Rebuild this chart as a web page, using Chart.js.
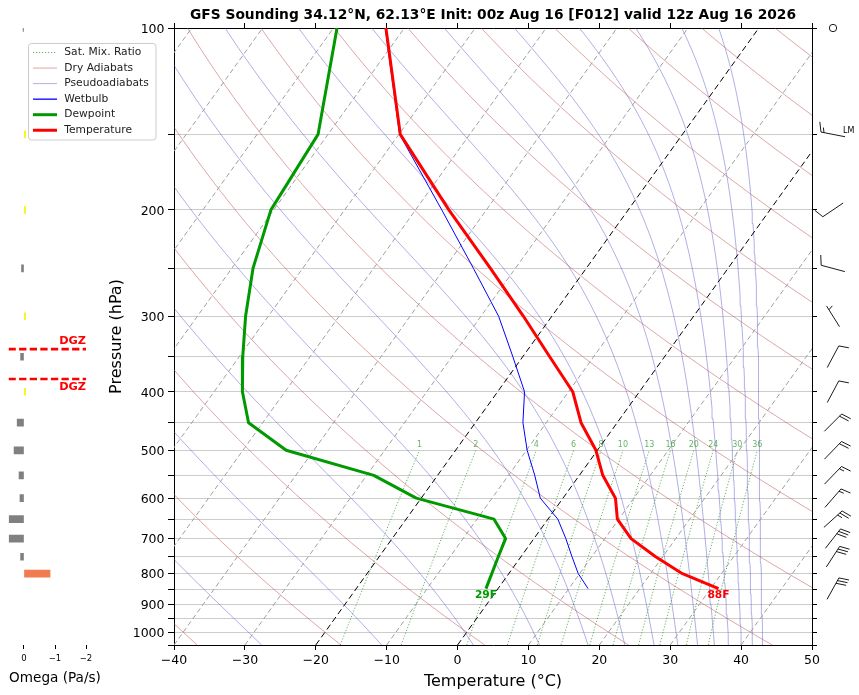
<!DOCTYPE html>
<html>
<head>
<meta charset="utf-8">
<title>GFS Sounding</title>
<script src="https://cdn.jsdelivr.net/npm/chart.js@4.4.1/dist/chart.umd.min.js"></script>
<style>
  body { margin: 0; background: #fff; overflow: hidden; }
  #wrap { position: relative; width: 859px; height: 695px; }
  canvas { position: absolute; left: 0; top: 0; }
</style>
</head>
<body>
<div id="wrap">
  <canvas id="omega" width="110" height="695"></canvas>
  <canvas id="skewt" width="859" height="695"></canvas>
</div>
<script>
// ---- sounding ----
var pLevels  = [100, 150, 200, 250, 300, 350, 400, 450, 500, 550, 600, 650, 700, 750, 800, 847];
var tempC    = [-72.6, -59.8, -45.3, -33.5, -24.0, -16.2, -9.4, -5.1, -0.2, 3.3, 7.4, 9.8, 13.7, 19.0, 24.5, 31.1];
var dewC     = [-79.5, -71.4, -70.4, -67.0, -63.2, -59.5, -56.0, -52.0, -43.9, -29.0, -20.7, -7.6, -4.0, -3.2, -2.4, -1.7];
var wetbulbC = [-72.7, -59.9, -46.3, -35.9, -27.5, -21.4, -16.2, -13.3, -9.9, -6.3, -3.2, 1.4, 4.5, 7.2, 9.8, 12.7];

// omega (Pa/s) on the left panel
var omegaP   = [100, 150, 200, 250, 300, 350, 400, 450, 500, 550, 600, 650, 700, 750, 800];
var omegaVal = [0.03, -0.05, -0.05, 0.08, -0.05, 0.11, -0.05, 0.22, 0.32, 0.16, 0.13, 0.48, 0.48, 0.11, -0.84];
var dgzP     = [340, 381];

// wind barbs (direction from, knots)
var barbP   = [100, 150, 200, 250, 300, 350, 400, 450, 500, 550, 600, 650, 700, 750, 847];
var barbDir = [0, 281, 236, 285, 328, 28, 28, 45, 44, 44, 41, 48, 38, 33, 29];
var barbKt  = [0, 15, 10, 10, 5, 10, 10, 20, 20, 15, 15, 25, 30, 30, 30];

// background lines
var isotherms     = [-100, -90, -80, -70, -60, -50, -40, -30, -20, -10, 0, 10, 20, 30, 40, 50];
var boldIsotherms = [-20, 0];
var dryThetaC     = [-40, -20, 0, 20, 40, 60, 80, 100, 120, 140, 160, 180, 200, 220];
var moistThetaEC  = [-30, -10, 10, 30, 50, 70, 90, 110, 130, 150, 170, 190, 210, 230];
var mixRatios     = [1, 2, 4, 6, 8, 10, 13, 16, 20, 24, 30, 36];

// axes
var xTicks     = [-40, -30, -20, -10, 0, 10, 20, 30, 40, 50];
var yTicks     = [100, 150, 200, 250, 300, 350, 400, 450, 500, 550, 600, 650, 700, 750, 800, 850, 900, 950, 1000, 1050];
var yLabels    = [100, 200, 300, 400, 500, 600, 700, 800, 900, 1000];
var omegaTicks = [0, -1, -2];

var titleText = 'GFS Sounding 34.12°N, 62.13°E Init: 00z Aug 16 [F012] valid 12z Aug 16 2026';

var P_BOT = 1050, P_TOP = 100, MIX_TOP = 500;
var X_MIN = -40, X_MAX = 50;
var SKEW = 61.2;   // degC shift per decade of pressure

var FONT = 'DejaVu Sans';
var DRY_COLOR = 'rgba(190, 80, 80, 0.5)';
var MOIST_COLOR = 'rgba(80, 80, 200, 0.45)';
var MIX_COLOR = 'rgba(0, 128, 0, 0.6)';
var DEW_COLOR = '#009900';

Chart.defaults.font.family = FONT;
Chart.defaults.color = '#000';

function skewX(t, p) {
  return t + SKEW * Math.log10(P_BOT / p);
}

function minusFmt(v) {
  return v < 0 ? '\u2212' + Math.abs(v) : String(v);
}

function satMixRatio(tc, p) {
  var es = 6.112 * Math.exp(17.67 * tc / (tc + 243.5));
  if (es >= 0.5 * p) return null;
  return 622 * es / (p - es);
}

// Bolton theta-e for saturated air
function thetaESat(tk, p) {
  var r = satMixRatio(tk - 273.15, p);
  if (r === null) return Infinity;
  return tk * Math.pow(1000 / p, 0.2854 * (1 - 0.00028 * r)) *
    Math.exp((3.376 / tk - 0.00254) * r * (1 + 0.00081 * r));
}

function tempOnPseudoAdiabat(thetaE, p) {
  var lo = 150, hi = 340;
  for (var k = 0; k < 50; k++) {
    var mid = (lo + hi) / 2;
    if (thetaESat(mid, p) > thetaE) hi = mid; else lo = mid;
  }
  return (lo + hi) / 2 - 273.15;
}

function dewpointFromMixRatio(w, p) {
  var e = p * w / (622 + w);
  var l = Math.log(e / 6.112);
  return 243.5 * l / (17.67 - l);
}

var curveP = [];
for (var i = 0; i <= 60; i++) curveP.push(P_BOT * Math.pow(P_TOP / P_BOT, i / 60));
var mixP = [];
for (var i = 0; i <= 12; i++) mixP.push(P_BOT * Math.pow(MIX_TOP / P_BOT, i / 12));

var datasets = [];
function addLine(points, style) {
  datasets.push(Object.assign({
    data: points, showLine: true, pointRadius: 0, pointHitRadius: 0,
    borderWidth: 1, fill: false, order: 10
  }, style));
}

isotherms.forEach(function (t) {
  var bold = boldIsotherms.indexOf(t) >= 0;
  addLine([{x: skewX(t, P_BOT), y: P_BOT}, {x: skewX(t, P_TOP), y: P_TOP}], {
    borderColor: bold ? '#000' : '#a0a0a0',
    borderDash: bold ? [6, 3.5] : [5, 3],
    order: bold ? 6 : 10
  });
});

dryThetaC.forEach(function (th) {
  addLine(curveP.map(function (p) {
    var t = (th + 273.15) * Math.pow(p / 1000, 0.2857) - 273.15;
    return {x: skewX(t, p), y: p};
  }), {borderColor: DRY_COLOR});
});

moistThetaEC.forEach(function (the) {
  addLine(curveP.map(function (p) {
    return {x: skewX(tempOnPseudoAdiabat(the + 273.15, p), p), y: p};
  }), {borderColor: MOIST_COLOR});
});

mixRatios.forEach(function (w) {
  addLine(mixP.map(function (p) {
    return {x: skewX(dewpointFromMixRatio(w, p), p), y: p};
  }), {borderColor: MIX_COLOR, borderDash: [1.2, 1.8]});
});

function profile(vals) {
  return pLevels.map(function (p, i) { return {x: skewX(vals[i], p), y: p}; });
}
addLine(profile(wetbulbC), {borderColor: '#0000ff', borderWidth: 1, order: 2});
addLine(profile(dewC), {borderColor: DEW_COLOR, borderWidth: 3, order: 1, borderJoinStyle: 'round'});
addLine(profile(tempC), {borderColor: '#ff0000', borderWidth: 3, order: 0, borderJoinStyle: 'round'});

// mixing ratio numbers and surface F labels
var labelPlugin = {
  id: 'labels',
  afterDatasetsDraw: function (chart) {
    var ctx = chart.ctx, xs = chart.scales.x, ys = chart.scales.y;
    ctx.save();
    ctx.font = '8px ' + FONT;
    ctx.fillStyle = MIX_COLOR;
    ctx.textAlign = 'center';
    ctx.textBaseline = 'middle';
    mixRatios.forEach(function (w) {
      var px = xs.getPixelForValue(skewX(dewpointFromMixRatio(w, MIX_TOP), MIX_TOP));
      ctx.fillText(String(w), px, ys.getPixelForValue(MIX_TOP) - 5);
    });
    var n = pLevels.length - 1;
    var sfc = pLevels[n];
    ctx.font = 'bold 10.7px ' + FONT;
    ctx.fillStyle = '#ff0000';
    ctx.fillText(Math.round(tempC[n] * 9 / 5 + 32) + 'F',
      xs.getPixelForValue(skewX(tempC[n], sfc)), ys.getPixelForValue(sfc) + 7);
    ctx.fillStyle = DEW_COLOR;
    ctx.fillText(Math.round(dewC[n] * 9 / 5 + 32) + 'F',
      xs.getPixelForValue(skewX(dewC[n], sfc)), ys.getPixelForValue(sfc) + 7);
    ctx.restore();
  }
};

// wind barbs in the right margin
var barbPlugin = {
  id: 'barbs',
  afterDraw: function (chart) {
    var ctx = chart.ctx, ys = chart.scales.y;
    var cx = chart.chartArea.right + 21;
    var L = 24.5, fh = 0.4 * L, fw = 0.25 * L, sp = 0.125 * L;
    ctx.save();
    ctx.strokeStyle = '#000';
    ctx.fillStyle = '#000';
    ctx.lineWidth = 0.9;
    barbP.forEach(function (p, i) {
      var cy = ys.getPixelForValue(p);
      var spd = Math.round(barbKt[i] / 5) * 5;
      if (spd < 5) {
        ctx.beginPath();
        ctx.arc(cx, cy, 0.15 * L, 0, Math.PI * 2);
        ctx.stroke();
        return;
      }
      var b = barbDir[i] * Math.PI / 180;
      var ux = Math.sin(b), uy = -Math.cos(b);
      var px = -uy, py = ux;
      var tx = cx - ux * L / 2, ty = cy - uy * L / 2;
      function at(o, h) { return [tx + ux * o + px * h, ty + uy * o + py * h]; }
      ctx.beginPath();
      ctx.moveTo(tx, ty);
      var e = at(L, 0);
      ctx.lineTo(e[0], e[1]);
      ctx.stroke();
      var flags = Math.floor(spd / 50);
      var full = Math.floor((spd % 50) / 10);
      var half = (spd % 10) >= 5;
      var off = L;
      for (var f = 0; f < flags; f++) {
        if (off !== L) off += sp / 2;
        var a = at(off, 0), c = at(off - fw / 2, fh), d = at(off - fw, 0);
        ctx.beginPath();
        ctx.moveTo(a[0], a[1]); ctx.lineTo(c[0], c[1]); ctx.lineTo(d[0], d[1]);
        ctx.closePath();
        ctx.fill();
        off -= fw + sp;
      }
      for (var k = 0; k < full; k++) {
        var s0 = at(off, 0), s1 = at(off + fw / 2, fh);
        ctx.beginPath();
        ctx.moveTo(s0[0], s0[1]); ctx.lineTo(s1[0], s1[1]);
        ctx.stroke();
        off -= sp;
      }
      if (half) {
        if (off === L) off -= 1.5 * sp;
        var h0 = at(off, 0), h1 = at(off + fw / 4, fh / 2);
        ctx.beginPath();
        ctx.moveTo(h0[0], h0[1]); ctx.lineTo(h1[0], h1[1]);
        ctx.stroke();
      }
    });
    ctx.font = '8px ' + FONT;
    ctx.textAlign = 'left';
    ctx.textBaseline = 'middle';
    ctx.fillText('LM', cx + 10, ys.getPixelForValue(150) - 3);
    ctx.restore();
  }
};

var legendItems = [
  {label: 'Sat. Mix. Ratio', color: MIX_COLOR, width: 1, dash: [1.2, 1.8]},
  {label: 'Dry Adiabats', color: DRY_COLOR, width: 1},
  {label: 'Pseudoadiabats', color: MOIST_COLOR, width: 1},
  {label: 'Wetbulb', color: '#0000ff', width: 1.3},
  {label: 'Dewpoint', color: DEW_COLOR, width: 3},
  {label: 'Temperature', color: '#ff0000', width: 3}
];

var legendPlugin = {
  id: 'boxLegend',
  afterDraw: function (chart) {
    var ctx = chart.ctx;
    var bx = 28.5, by = 43.5, bw = 127.5, bh = 96.5;
    ctx.save();
    ctx.beginPath();
    ctx.roundRect(bx, by, bw, bh, 3);
    ctx.fillStyle = 'rgba(255,255,255,0.8)';
    ctx.fill();
    ctx.strokeStyle = '#cccccc';
    ctx.lineWidth = 1;
    ctx.stroke();
    ctx.font = '10.7px ' + FONT;
    ctx.textBaseline = 'middle';
    ctx.textAlign = 'left';
    legendItems.forEach(function (it, i) {
      var y = 52.5 + i * 15.55;
      ctx.beginPath();
      ctx.setLineDash(it.dash || []);
      ctx.strokeStyle = it.color;
      ctx.lineWidth = it.width;
      ctx.moveTo(33, y);
      ctx.lineTo(57, y);
      ctx.stroke();
      ctx.setLineDash([]);
      ctx.fillStyle = '#222';
      ctx.fillText(it.label, 64.3, y);
    });
    ctx.restore();
  }
};

var tickFont = {family: FONT, size: 12.5};

new Chart(document.getElementById('skewt'), {
  type: 'scatter',
  data: {datasets: datasets},
  options: {
    responsive: false,
    animation: false,
    events: [],
    layout: {padding: 0},
    plugins: {legend: {display: false}, tooltip: {enabled: false}},
    scales: {
      x: {
        type: 'linear', position: 'bottom', min: X_MIN, max: X_MAX,
        afterBuildTicks: function (s) { s.ticks = xTicks.map(function (v) { return {value: v}; }); },
        afterFit: function (s) { s.height = 50; },
        ticks: {font: tickFont, padding: 3.5, maxRotation: 0, autoSkip: false, callback: minusFmt},
        grid: {drawOnChartArea: false, drawTicks: true, tickLength: 5, tickColor: '#000'},
        border: {color: '#000', width: 1},
        title: {display: true, text: 'Temperature (°C)', font: {family: FONT, size: 16}, padding: {top: 0, bottom: 4}}
      },
      x2: {
        type: 'linear', position: 'top', min: X_MIN, max: X_MAX,
        afterBuildTicks: function (s) { s.ticks = xTicks.map(function (v) { return {value: v}; }); },
        afterFit: function (s) { s.height = 28; },
        ticks: {font: tickFont, autoSkip: false, callback: function () { return ''; }},
        grid: {drawOnChartArea: false, drawTicks: true, tickLength: 5, tickColor: '#000'},
        border: {color: '#000', width: 1},
        title: {display: true, text: titleText, font: {family: FONT, size: 13.8, weight: 'bold'}, padding: {top: 7, bottom: 0}}
      },
      y: {
        type: 'logarithmic', position: 'left', reverse: true, min: P_TOP, max: P_BOT,
        afterBuildTicks: function (s) { s.ticks = yTicks.map(function (v) { return {value: v}; }); },
        afterFit: function (s) { s.width = 174; },
        ticks: {
          font: tickFont, padding: 3.5, autoSkip: false, labelOffset: 1.5,
          callback: function (v) { return yLabels.indexOf(v) >= 0 ? String(v) : ''; }
        },
        grid: {color: '#cccccc', lineWidth: 1, drawTicks: true, tickLength: 6, tickColor: '#000'},
        border: {color: '#000', width: 1},
        title: {display: true, text: 'Pressure (hPa)', font: {family: FONT, size: 16}, padding: {top: 107.4, bottom: 0}}
      },
      y2: {
        type: 'logarithmic', position: 'right', reverse: true, min: P_TOP, max: P_BOT,
        afterBuildTicks: function (s) { s.ticks = yTicks.map(function (v) { return {value: v}; }); },
        afterFit: function (s) { s.width = 47; },
        ticks: {font: tickFont, autoSkip: false, callback: function () { return ''; }},
        grid: {drawOnChartArea: false, drawTicks: true, tickLength: 5, tickColor: '#000'},
        border: {color: '#000', width: 1}
      }
    }
  },
  plugins: [labelPlugin, barbPlugin, legendPlugin]
});

// ---- omega panel ----
function omegaColor(v) {
  if (v > 0) return '#808080';
  if (v > -0.5) return '#ffee00';
  return '#f07c50';
}

var omegaSets = [{
  type: 'bar', indexAxis: 'y',
  data: omegaP.map(function (p, i) { return {x: omegaVal[i], y: p}; }),
  backgroundColor: omegaVal.map(omegaColor),
  borderWidth: 0, barThickness: 7, order: 2
}];
dgzP.forEach(function (p) {
  omegaSets.push({
    type: 'line', data: [{x: 0.5, y: p}, {x: -2, y: p}],
    borderColor: '#ff0000', borderWidth: 2.7, borderDash: [7.3, 3.3],
    pointRadius: 0, fill: false, order: 1
  });
});

var dgzLabelPlugin = {
  id: 'dgzLabels',
  afterDatasetsDraw: function (chart) {
    var ctx = chart.ctx, xs = chart.scales.x, ys = chart.scales.y;
    ctx.save();
    ctx.font = 'bold 11.3px ' + FONT;
    ctx.fillStyle = '#ff0000';
    ctx.textAlign = 'right';
    var xr = xs.getPixelForValue(-2);
    ctx.textBaseline = 'bottom';
    ctx.fillText('DGZ', xr, ys.getPixelForValue(dgzP[0]) - 2);
    ctx.textBaseline = 'top';
    ctx.fillText('DGZ', xr, ys.getPixelForValue(dgzP[1]) + 2);
    ctx.restore();
  }
};

new Chart(document.getElementById('omega'), {
  type: 'bar',
  data: {datasets: omegaSets},
  options: {
    responsive: false,
    animation: false,
    events: [],
    layout: {padding: {left: 8.5, right: 8.5, top: 28, bottom: 0}},
    plugins: {legend: {display: false}, tooltip: {enabled: false}},
    scales: {
      x: {
        type: 'linear', min: -2.5, max: 0.5, reverse: true, offset: false,
        afterBuildTicks: function (s) { s.ticks = omegaTicks.map(function (v) { return {value: v}; }); },
        afterFit: function (s) { s.height = 50; },
        ticks: {font: {family: FONT, size: 8.5}, padding: 5, autoSkip: false, maxRotation: 0, callback: minusFmt},
        grid: {offset: false, drawOnChartArea: false, drawTicks: true, tickLength: 4, tickColor: '#000'},
        border: {display: false},
        title: {display: true, text: 'Omega (Pa/s)', font: {family: FONT, size: 13.6}, padding: {top: 0, bottom: 8.8}}
      },
      y: {
        type: 'logarithmic', reverse: true, min: P_TOP, max: P_BOT, display: false, offset: false,
        grid: {offset: false}
      }
    }
  },
  plugins: [dgzLabelPlugin]
});
</script>
</body>
</html>
